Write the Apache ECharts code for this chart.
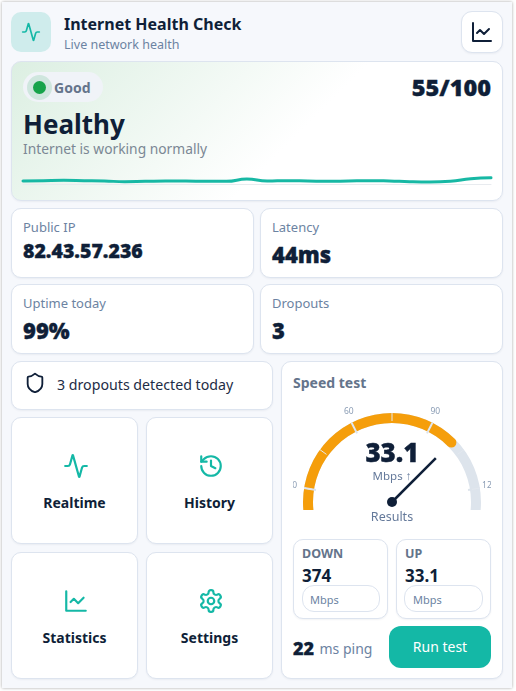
<!DOCTYPE html>
<html>
<head>
<meta charset="utf-8">
<title>Internet Health Check</title>
<script src="https://cdn.jsdelivr.net/npm/echarts@6/dist/echarts.min.js"></script>
<style>
html, body { margin: 0; padding: 0; width: 516px; height: 691px; overflow: hidden; background: #fff; }
body, div, span { font-family: "Noto Sans", sans-serif; color: #0f1f38; }
#panel { position: absolute; left: 2px; top: 2px; width: 510px; height: 686px; background: #f6f8fc; box-shadow: 0 0 3px rgba(0,0,0,.35); }
.abs, .card, .t { position: absolute; }
.card { box-sizing: border-box; background: #fff; border: 1px solid #dde4ef; border-radius: 10px; box-shadow: 0 1px 2px rgba(30,50,90,.06); }
.t { white-space: nowrap; line-height: 1; }
.label { font-size: 13px; color: #6c83a2; }
.big { font-weight: 900; -webkit-text-stroke: .35px #0f1f38; }
.tile { font-size: 14px; font-weight: 700; transform: translateX(-50%); }
svg { position: absolute; fill: none; stroke-linecap: round; stroke-linejoin: round; }
</style>
</head>
<body>
<div id="panel"></div>
<div id="root"></div>
<script>
// sparkline of the health score
var sparkValues = [4.3, 4.8, 5.2, 4.8, 4.3, 3.3, 3.8, 4.3, 4.3, 3.8, 3.8, 7.1, 4.3, 4.8, 4.3, 3.8, 4.3, 4.8, 4.3, 3.3, 2.9, 3.8, 7.6, 9.0];
// gauge
var gaugeReading = 100;
var gaugeMax = 150;
var speedText = '33.1';
var statLabels = ['Public IP', 'Latency', 'Uptime today', 'Dropouts'];
var statValues = ['82.43.57.236', '44ms', '99%', '3'];
var tileLabels = ['Realtime', 'History', 'Statistics', 'Settings'];

var ICONS = {
    activity: '<path d="M22 12h-2.48a2 2 0 0 0-1.93 1.46l-2.35 8.36a.25.25 0 0 1-.48 0L9.24 2.18a.25.25 0 0 0-.48 0l-2.35 8.36A2 2 0 0 1 4.49 12H2"/>',
    history: '<path d="M3 12a9 9 0 1 0 9-9 9.75 9.75 0 0 0-6.74 2.74L3 8"/><path d="M3 3v5h5"/><path d="M12 7v5l4 2"/>',
    chart: '<path d="M3 3v18h18"/><path d="m19 9-5 5-4-4-3 3"/>',
    settings: '<path d="M12.22 2h-.44a2 2 0 0 0-2 2v.18a2 2 0 0 1-1 1.73l-.43.25a2 2 0 0 1-2 0l-.15-.08a2 2 0 0 0-2.73.73l-.22.38a2 2 0 0 0 .73 2.73l.15.1a2 2 0 0 1 1 1.72v.51a2 2 0 0 1-1 1.74l-.15.09a2 2 0 0 0-.73 2.73l.22.38a2 2 0 0 0 2.73.73l.15-.08a2 2 0 0 1 2 0l.43.25a2 2 0 0 1 1 1.73V20a2 2 0 0 0 2 2h.44a2 2 0 0 0 2-2v-.18a2 2 0 0 1 1-1.73l.43-.25a2 2 0 0 1 2 0l.15.08a2 2 0 0 0 2.73-.73l.22-.39a2 2 0 0 0-.73-2.73l-.15-.08a2 2 0 0 1-1-1.74v-.5a2 2 0 0 1 1-1.74l.15-.09a2 2 0 0 0 .73-2.73l-.22-.38a2 2 0 0 0-2.73-.73l-.15.08a2 2 0 0 1-2 0l-.43-.25a2 2 0 0 1-1-1.73V4a2 2 0 0 0-2-2z"/><circle cx="12" cy="12" r="3"/>',
    shield: '<path d="M20 13c0 5-3.5 7.5-7.66 8.95a1 1 0 0 1-.67-.01C7.5 20.5 4 18 4 13V6a1 1 0 0 1 1-1c2 0 4.5-1.2 6.24-2.72a1.17 1.17 0 0 1 1.52 0C14.51 3.81 17 5 19 5a1 1 0 0 1 1 1z"/>'
};

var root = document.getElementById('root');

function box(x, y, w, h, extra) {
    root.insertAdjacentHTML('beforeend', `<div class="card" style="left:${x}px;top:${y}px;width:${w}px;height:${h}px;${extra || ''}"></div>`);
}
// y is the vertical centre of the text
function text(x, y, str, size, extra, cls) {
    root.insertAdjacentHTML('beforeend', `<div class="t ${cls || ''}" style="left:${x}px;top:${y - size / 2}px;font-size:${size}px;${extra || ''}">${str}</div>`);
}
function icon(name, x, y, size, color, width) {
    root.insertAdjacentHTML('beforeend', `<svg viewBox="0 0 24 24" style="left:${x}px;top:${y}px;width:${size}px;height:${size}px;stroke:${color};stroke-width:${width}">${ICONS[name]}</svg>`);
}

// header
box(11, 12, 40, 40, 'background:#cfecec;border:none;box-shadow:none');
icon('activity', 21, 22, 20, '#14b8a6', 2);
text(64, 24, 'Internet Health Check', 16, 'font-weight:700');
text(64, 45, 'Live network health', 12.5, 'color:#6c83a2');
box(461, 11, 42, 42, 'border-radius:11px');
icon('chart', 470, 20, 24, '#0f1f38', 2);

// hero
box(11, 61, 492, 140, 'background:linear-gradient(135deg,#dcefe2 0%,#ffffff 57%);');
root.insertAdjacentHTML('beforeend', '<div class="abs" style="left:23px;top:72px;width:80px;height:30px;border-radius:15px;background:#f0f3f8"></div>');
root.insertAdjacentHTML('beforeend', '<div class="abs" style="left:27px;top:74.5px;width:25px;height:25px;border-radius:50%;background:rgba(22,163,74,.15)"></div>');
root.insertAdjacentHTML('beforeend', '<div class="abs" style="left:33px;top:80.5px;width:13px;height:13px;border-radius:50%;background:#16a34a"></div>');
text(54, 87.5, 'Good', 14, 'font-weight:700;color:#64748b');
text(0, 88, '55/100', 23.5, 'width:491px;text-align:right', 'big');
text(23, 124, 'Healthy', 26, 'font-weight:700');
text(23, 149, 'Internet is working normally', 13.8, 'color:#7b8794');
root.insertAdjacentHTML('beforeend', '<div id="spark" class="abs" style="left:13px;top:164px;width:488px;height:30px"></div>');

// stat cards
var statBoxes = [[11, 208], [260, 208], [11, 284], [260, 284]];
var statSizes = [19.5, 22, 22, 22];
var statOffsets = [43, 45.5, 45.5, 45.5];
statBoxes.forEach(function (b, i) {
    box(b[0], b[1], 243, 70);
    text(b[0] + 12, b[1] + 19.5, statLabels[i], 13, '', 'label');
    text(b[0] + 12, b[1] + statOffsets[i], statValues[i], statSizes[i], '', 'big');
});

// alert row
box(11, 361, 262, 49);
icon('shield', 24, 372, 22, '#0f1f38', 2);
text(57, 385.5, '3 dropouts detected today', 14.2, 'color:#1e2c45');

// tiles
var tileBoxes = [[11, 417], [146, 417], [11, 552], [146, 552]];
var tileIcons = ['activity', 'history', 'chart', 'settings'];
tileBoxes.forEach(function (b, i) {
    box(b[0], b[1], 127, 127);
    icon(tileIcons[i], b[0] + 51.5, b[1] + 36, 26, '#14b8a6', 2);
    text(b[0] + 63.5, b[1] + 86, tileLabels[i], 14, '', 'tile');
});

// speed test card
box(281, 361, 222, 318);
text(293, 383, 'Speed test', 14, 'font-weight:700;color:#64748b');
root.insertAdjacentHTML('beforeend', '<div id="gauge" class="abs" style="left:293px;top:400px;width:198px;height:110px;overflow:hidden"></div>');
text(0, 517, 'Results', 12.5, 'width:784px;text-align:center;color:#64799a');

box(293, 539, 95, 80);
text(302, 554, 'DOWN', 12.5, 'font-weight:700;color:#64748b');
text(302, 575, '374', 17, 'font-weight:700');
box(302, 585, 78, 27, 'border-radius:12px;box-shadow:none');
text(310, 599, 'Mbps', 11, 'color:#6c83a2');

box(396, 539, 95, 80);
text(405, 554, 'UP', 12.5, 'font-weight:700;color:#64748b');
text(405, 575, speedText, 17, 'font-weight:700');
box(404, 585, 79, 27, 'border-radius:12px;box-shadow:none');
text(413, 599, 'Mbps', 11, 'color:#6c83a2');

text(293, 648, '22', 18, '', 'big');
text(319.5, 649, 'ms ping', 14, 'color:#6c83a2');
box(389, 626, 102, 42, 'background:#14b8a6;border:none;border-radius:12px;box-shadow:none');
text(389, 647, 'Run test', 14, 'width:102px;text-align:center;color:#fff');

// sparkline chart
var sparkChart = echarts.init(document.getElementById('spark'));
sparkChart.setOption({
    animation: false,
    grid: { left: 10, right: 10, top: 6, bottom: 10 },
    xAxis: {
        type: 'category',
        boundaryGap: false,
        data: sparkValues.map(function (v, i) { return i; }),
        axisLine: { lineStyle: { color: '#e8ebef', width: 1 } },
        axisTick: { show: false },
        axisLabel: { show: false }
    },
    yAxis: { type: 'value', min: 0, max: 20, show: false, splitLine: { show: false } },
    series: [{
        type: 'line',
        data: sparkValues,
        smooth: true,
        showSymbol: false,
        lineStyle: { color: '#17b8a4', width: 3, cap: 'round' }
    }]
});

// gauge chart, the bottom of the dial is cut by the container
// two series because the progress arc would otherwise hide the ticks
var gaugeBase = {
    type: 'gauge',
    center: [99, 102],
    radius: 89,
    min: 0,
    max: gaugeMax,
    splitNumber: 5,
    data: [{ value: gaugeReading }]
};
var gaugeChart = echarts.init(document.getElementById('gauge'));
gaugeChart.setOption({
    animation: false,
    series: [Object.assign({}, gaugeBase, {
        z: 2,
        progress: { show: true, roundCap: true, width: 10, itemStyle: { color: '#f59e0b' } },
        axisLine: { lineStyle: { width: 10, color: [[1, '#dde4ec']] } },
        splitLine: { show: false },
        axisTick: { show: false },
        axisLabel: { show: false },
        pointer: { show: false },
        anchor: { show: false },
        title: { show: false },
        detail: { show: false }
    }), Object.assign({}, gaugeBase, {
        z: 6,
        axisLine: { show: false, lineStyle: { width: 10 } },
        splitLine: { distance: -10, length: 12, lineStyle: { color: '#dde4ec', width: 2 } },
        axisTick: { splitNumber: 2, distance: -10, length: 8, lineStyle: { color: '#e3e8ef', width: 1 } },
        axisLabel: { distance: -19, fontSize: 8.5, color: '#8b9db5', fontFamily: 'Noto Sans' },
        pointer: { icon: 'rect', length: 62, width: 2.5, offsetCenter: [0, 0], itemStyle: { color: '#0f1f38' } },
        anchor: { show: true, showAbove: true, size: 10, itemStyle: { color: '#0f1f38', borderWidth: 0 } },
        title: { show: false },
        detail: {
            offsetCenter: [0, -40],
            valueAnimation: false,
            fontWeight: 'normal',
            formatter: function () { return '{v|' + speedText + '}\n{u|Mbps ↑}'; },
            rich: {
                v: { fontSize: 26, fontWeight: 900, color: '#0f1f38', fontFamily: 'Noto Sans', lineHeight: 30, textBorderColor: '#0f1f38', textBorderWidth: .4 },
                u: { fontSize: 11.5, fontWeight: 'normal', color: '#64799a', fontFamily: 'Noto Sans', lineHeight: 14 }
            }
        }
    })]
});
</script>
</body>
</html>
